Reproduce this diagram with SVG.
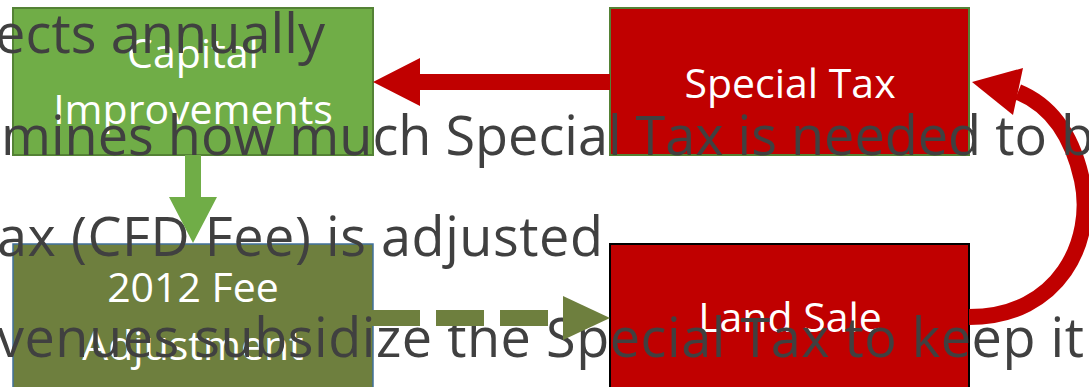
<svg xmlns="http://www.w3.org/2000/svg" width="1089" height="387" viewBox="0 0 1089 387">
  <style>
    .lbl { font-family: "Open Sans", "Noto Sans", "Liberation Sans", sans-serif; font-size: 41px; fill: #FFFFFF; text-anchor: middle; }
    .bg { font-family: "Open Sans", "Noto Sans", "Liberation Sans", sans-serif; font-size: 54px; fill: #404040; }
    .red { fill: #C00000; }
  </style>
  <rect x="0" y="0" width="1089" height="387" fill="#FFFFFF"/>

  <g id="node-capital-improvements">
    <rect x="13" y="8" width="360" height="147" fill="#70AD47" stroke="#548235" stroke-width="2"/>
    <text class="lbl" x="193" y="68">Capital</text>
    <text class="lbl" x="193" y="124">Improvements</text>
  </g>
  <g id="node-special-tax">
    <rect x="610" y="8" width="359" height="147" fill="#C00000" stroke="#548235" stroke-width="2"/>
    <text class="lbl" x="790" y="98">Special Tax</text>
  </g>
  <g id="node-2012-fee-adjustment">
    <rect x="13" y="244" width="360" height="147" fill="#6E7F3E" stroke="#41719C" stroke-width="1.5"/>
    <text class="lbl" x="193" y="302">2012 Fee</text>
    <text class="lbl" x="193" y="360">Adjustment</text>
  </g>
  <g id="node-land-sale">
    <rect x="610" y="244" width="359" height="147" fill="#C00000" stroke="#000000" stroke-width="2"/>
    <text class="lbl" x="790" y="332">Land Sale</text>
  </g>

  <g id="connectors-back">
    <path d="M 969 317 C 1060 317 1095 240 1082 180 C 1072 135 1050 105 1018 92" fill="none" stroke="#C00000" stroke-width="16"/>
    <polygon class="red" points="972,82 1023,68 1013,115"/>
  </g>

  <g id="slide-text">
    <text class="bg" x="-5" y="53" textLength="330">ects annually</text>
    <text class="bg" x="1" y="155">mines how much Special Tax is needed to b</text>
    <text class="bg" x="-3" y="256" textLength="606">ax (CFD Fee) is adjusted</text>
    <text class="bg" x="-3" y="357" textLength="1087">venues subsidize the Special Tax to keep it</text>
  </g>

  <g id="connectors">
    <polygon class="red" points="610,74 420,74 420,58 373,82 420,106 420,90 610,90"/>
    <polygon fill="#70AD47" points="185,155 201,155 201,197 217,197 193,243 169,197 185,197"/>
    <line x1="372" y1="318" x2="563" y2="318" stroke="#6E7F3E" stroke-width="16" stroke-dasharray="48 16"/>
    <polygon fill="#6E7F3E" points="563,296 610,318 563,340"/>
  </g>
</svg>
